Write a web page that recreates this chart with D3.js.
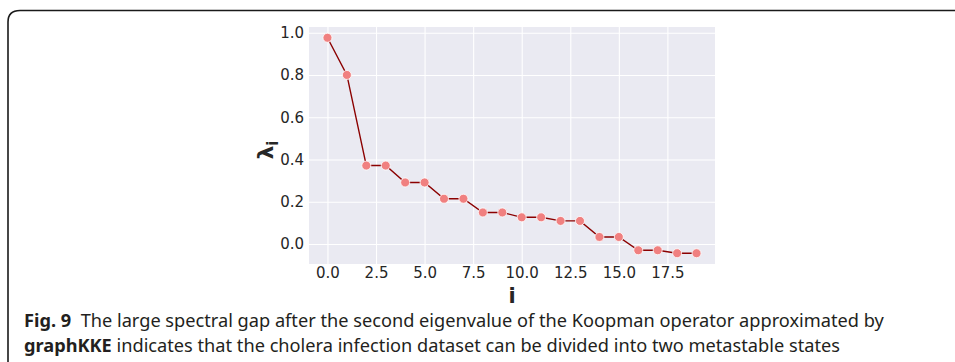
<!DOCTYPE html>
<html>
<head>
<meta charset="utf-8">
<script src="https://cdn.jsdelivr.net/npm/d3@7"></script>
<style>
    body { margin: 0; background: #fff; }
    svg { display: block; }
</style>
</head>
<body>
<svg id="chart" width="955" height="362"></svg>
<script>
// eigenvalue index and value
const indices = d3.range(20)
const eigenvalues = [0.976, 0.800, 0.371, 0.371, 0.291, 0.291, 0.214, 0.214, 0.149, 0.149,
    0.126, 0.126, 0.109, 0.109, 0.033, 0.033, -0.030, -0.030, -0.044, -0.044]
const xTicks = [0, 2.5, 5, 7.5, 10, 12.5, 15, 17.5]
const yTicks = [0, 0.2, 0.4, 0.6, 0.8, 1.0]
const captionLines = [
    ["Fig. 9", "  The large spectral gap after the second eigenvalue of the Koopman operator approximated by"],
    ["graphKKE", " indicates that the cholera infection dataset can be divided into two metastable states"]
]

const svg = d3.select("#chart")
const plot = { left: 309, right: 715, top: 27, bottom: 264 }

const x = d3.scaleLinear().domain([-0.95, 19.95]).range([plot.left, plot.right])
const y = d3.scaleLinear().domain([-0.095, 1.027]).range([plot.bottom, plot.top])

/* frame around the figure, open on the right and bottom */
svg.append("path")
    .attr("d", "M8,362 L8,22 Q8,10.5 20,10.5 L955,10.5")
    .attr("fill", "none")
    .attr("stroke", "#1a1a1a")
    .attr("stroke-width", 1.6)

svg.append("rect")
    .attr("x", plot.left).attr("y", plot.top)
    .attr("width", plot.right - plot.left).attr("height", plot.bottom - plot.top)
    .attr("fill", "#eaeaf2")

/* grid lines + tick labels */
const xAxis = d3.axisBottom(x).tickValues(xTicks).tickFormat(d3.format(".1f"))
    .tickSize(-(plot.bottom - plot.top)).tickPadding(3)
const yAxis = d3.axisLeft(y).tickValues(yTicks).tickFormat(d3.format(".1f"))
    .tickSize(-(plot.right - plot.left)).tickPadding(5)

for (const [axis, tr] of [[xAxis, `translate(0,${plot.bottom})`], [yAxis, `translate(${plot.left},0)`]]) {
    const g = svg.append("g").attr("transform", tr).call(axis)
    g.select(".domain").remove()
    g.selectAll(".tick line").attr("stroke", "#fff").attr("stroke-width", 1.1)
    g.selectAll(".tick text")
        .attr("fill", "#262626")
        .style("font-family", "DejaVu Sans")
        .style("font-size", "15px")
}

const points = indices.map((i, k) => ({ i, v: eigenvalues[k] }))

svg.append("path")
    .datum(points)
    .attr("d", d3.line().x(d => x(d.i)).y(d => y(d.v)))
    .attr("fill", "none")
    .attr("stroke", "#8b0000")
    .attr("stroke-width", 1.4)

svg.append("g").selectAll("circle")
    .data(points)
    .join("circle")
    .attr("cx", d => x(d.i))
    .attr("cy", d => y(d.v))
    .attr("r", 4.5)
    .attr("fill", "#f08080")
    .attr("stroke", "#fff")
    .attr("stroke-width", 0.8)

/* axis labels */
svg.append("text")
    .attr("x", (plot.left + plot.right) / 2)
    .attr("y", 303)
    .attr("text-anchor", "middle")
    .attr("fill", "#262626")
    .style("font-family", "DejaVu Sans")
    .style("font-size", "21px")
    .style("font-weight", "bold")
    .text("i")

const yLabel = svg.append("text")
    .attr("transform", "translate(273,150) rotate(-90)")
    .attr("text-anchor", "middle")
    .attr("fill", "#262626")
    .style("font-family", "DejaVu Sans")
    .style("font-weight", "bold")
yLabel.append("tspan").style("font-size", "22px").text("λ")
yLabel.append("tspan").attr("dy", 5).style("font-size", "15px").text("i")

/* caption */
const caption = svg.append("g")
    .style("font-family", "Noto Sans")
    .style("font-size", "18.2px")
    .attr("fill", "#231f20")
captionLines.forEach(([bold, rest], k) => {
    const t = caption.append("text").attr("x", 24).attr("y", 327 + k * 25)
    t.append("tspan").style("font-weight", "bold").text(bold)
    t.append("tspan").attr("xml:space", "preserve").style("white-space", "pre").text(rest)
})
</script>
</body>
</html>
